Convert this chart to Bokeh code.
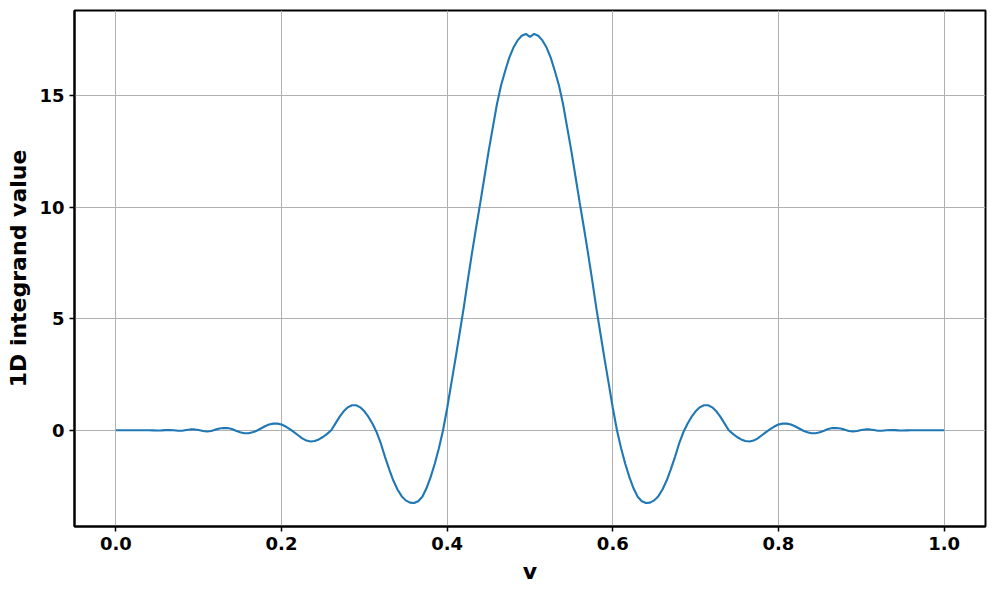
from bokeh.plotting import figure
from bokeh.models import FixedTicker, NumeralTickFormatter, Range1d
from bokeh.embed import file_html
from bokeh.resources import INLINE

# sample positions (v) and integrand values
v_left = [0.000, 0.005, 0.010, 0.015, 0.020, 0.025, 0.030, 0.035, 0.040, 0.045,
          0.050, 0.055, 0.060, 0.065, 0.070, 0.075, 0.080, 0.085, 0.090, 0.095,
          0.100, 0.105, 0.110, 0.115, 0.120, 0.125, 0.130, 0.135, 0.140, 0.145,
          0.150, 0.155, 0.160, 0.165, 0.170, 0.175, 0.180, 0.185, 0.190, 0.195,
          0.200, 0.205, 0.210, 0.215, 0.220, 0.225, 0.230, 0.235, 0.240, 0.245,
          0.250, 0.255, 0.260, 0.265, 0.270, 0.275, 0.280, 0.285, 0.290, 0.295,
          0.300, 0.305, 0.310, 0.315, 0.320, 0.325, 0.330, 0.335, 0.340, 0.345,
          0.350, 0.355, 0.360, 0.365, 0.370, 0.375, 0.380, 0.385, 0.390, 0.395,
          0.400, 0.405, 0.410, 0.415, 0.420, 0.425, 0.430, 0.435, 0.440, 0.445,
          0.450, 0.455, 0.460, 0.465, 0.470, 0.475, 0.480, 0.485, 0.490, 0.495,
          0.500]
y_left = [0.0, 0.0, 0.0, 0.0, 0.0, 0.0, 0.0, 0.0, 0.0, -0.005,
          -0.01, -0.005, 0.01, 0.015, 0.0, -0.02, -0.02, 0.01, 0.04, 0.04,
          0.01, -0.03, -0.05, -0.03, 0.03, 0.08, 0.10, 0.10, 0.06, -0.02,
          -0.09, -0.13, -0.13, -0.09, -0.02, 0.08, 0.18, 0.26, 0.30, 0.30,
          0.26, 0.17, 0.05, -0.08, -0.22, -0.36, -0.46, -0.50, -0.48, -0.41,
          -0.30, -0.16, 0.00, 0.30, 0.60, 0.85, 1.03, 1.12, 1.12, 1.03,
          0.85, 0.60, 0.28, -0.10, -0.60, -1.20, -1.75, -2.25, -2.65, -2.95,
          -3.14, -3.24, -3.26, -3.18, -2.98, -2.60, -2.10, -1.50, -0.80, 0.00,
          1.00, 2.10, 3.20, 4.35, 5.50, 6.75, 7.95, 9.10, 10.20, 11.35,
          12.50, 13.55, 14.60, 15.45, 16.10, 16.70, 17.15, 17.47, 17.68, 17.76,
          17.63]
v_right = [0.505, 0.510, 0.515, 0.520, 0.525, 0.530, 0.535, 0.540, 0.545, 0.550,
           0.555, 0.560, 0.565, 0.570, 0.575, 0.580, 0.585, 0.590, 0.595, 0.600,
           0.605, 0.610, 0.615, 0.620, 0.625, 0.630, 0.635, 0.640, 0.645, 0.650,
           0.655, 0.660, 0.665, 0.670, 0.675, 0.680, 0.685, 0.690, 0.695, 0.700,
           0.705, 0.710, 0.715, 0.720, 0.725, 0.730, 0.735, 0.740, 0.745, 0.750,
           0.755, 0.760, 0.765, 0.770, 0.775, 0.780, 0.785, 0.790, 0.795, 0.800,
           0.805, 0.810, 0.815, 0.820, 0.825, 0.830, 0.835, 0.840, 0.845, 0.850,
           0.855, 0.860, 0.865, 0.870, 0.875, 0.880, 0.885, 0.890, 0.895, 0.900,
           0.905, 0.910, 0.915, 0.920, 0.925, 0.930, 0.935, 0.940, 0.945, 0.950,
           0.955, 0.960, 0.965, 0.970, 0.975, 0.980, 0.985, 0.990, 0.995, 1.000]
y_right = [17.76, 17.68, 17.47, 17.15, 16.70, 16.10, 15.45, 14.60, 13.55, 12.50,
           11.35, 10.20, 9.10, 7.95, 6.75, 5.50, 4.35, 3.20, 2.10, 1.00,
           0.00, -0.80, -1.50, -2.10, -2.60, -2.98, -3.18, -3.26, -3.24, -3.14,
           -2.95, -2.65, -2.25, -1.75, -1.20, -0.60, -0.10, 0.28, 0.60, 0.85,
           1.03, 1.12, 1.12, 1.03, 0.85, 0.60, 0.30, 0.00, -0.16, -0.30,
           -0.41, -0.48, -0.50, -0.46, -0.36, -0.22, -0.08, 0.05, 0.17, 0.26,
           0.30, 0.30, 0.26, 0.18, 0.08, -0.02, -0.09, -0.13, -0.13, -0.09,
           -0.02, 0.06, 0.10, 0.10, 0.08, 0.03, -0.03, -0.05, -0.03, 0.01,
           0.04, 0.04, 0.01, -0.02, -0.02, 0.0, 0.015, 0.01, -0.005, -0.01,
           -0.005, 0.0, 0.0, 0.0, 0.0, 0.0, 0.0, 0.0, 0.0, 0.0]

x_ticks = [0.0, 0.2, 0.4, 0.6, 0.8, 1.0]
y_ticks = [0, 5, 10, 15]

v = v_left + v_right
y = y_left + y_right

p = figure(width=988, height=586, output_backend="svg", toolbar_location=None,
           x_range=Range1d(-0.05, 1.05), y_range=Range1d(-4.31, 18.81),
           min_border_left=74, min_border_right=3, min_border_top=10,
           min_border_bottom=58)

p.line(v, y, line_color="#1f77b4", line_width=2.1)

p.outline_line_color = "black"
p.outline_line_width = 2
p.background_fill_color = "white"
p.border_fill_color = "white"

p.xaxis.ticker = FixedTicker(ticks=x_ticks)
p.yaxis.ticker = FixedTicker(ticks=y_ticks)
p.xaxis.formatter = NumeralTickFormatter(format="0.0")
p.yaxis.formatter = NumeralTickFormatter(format="0")

for ax in (p.xaxis, p.yaxis):
    ax.axis_line_color = "black"
    ax.axis_line_width = 2
    ax.major_tick_line_color = "black"
    ax.major_tick_line_width = 1.5
    ax.major_tick_out = 5
    ax.major_tick_in = 0
    ax.minor_tick_line_color = None
    ax.major_label_text_font = "DejaVu Sans"
    ax.major_label_text_font_style = "bold"
    ax.major_label_text_font_size = "18px"
    ax.major_label_text_color = "black"
    ax.axis_label_text_font = "DejaVu Sans"
    ax.axis_label_text_font_style = "bold"
    ax.axis_label_text_font_size = "22px"
    ax.axis_label_text_color = "black"
    ax.major_label_standoff = 5

p.xaxis.axis_label = "v"
p.yaxis.axis_label = "1D integrand value"
p.xaxis.axis_label_standoff = 6
p.yaxis.axis_label_standoff = 5

p.grid.grid_line_color = "#b0b0b0"
p.grid.grid_line_width = 1

open("out.html", "w").write(file_html(p, INLINE))
